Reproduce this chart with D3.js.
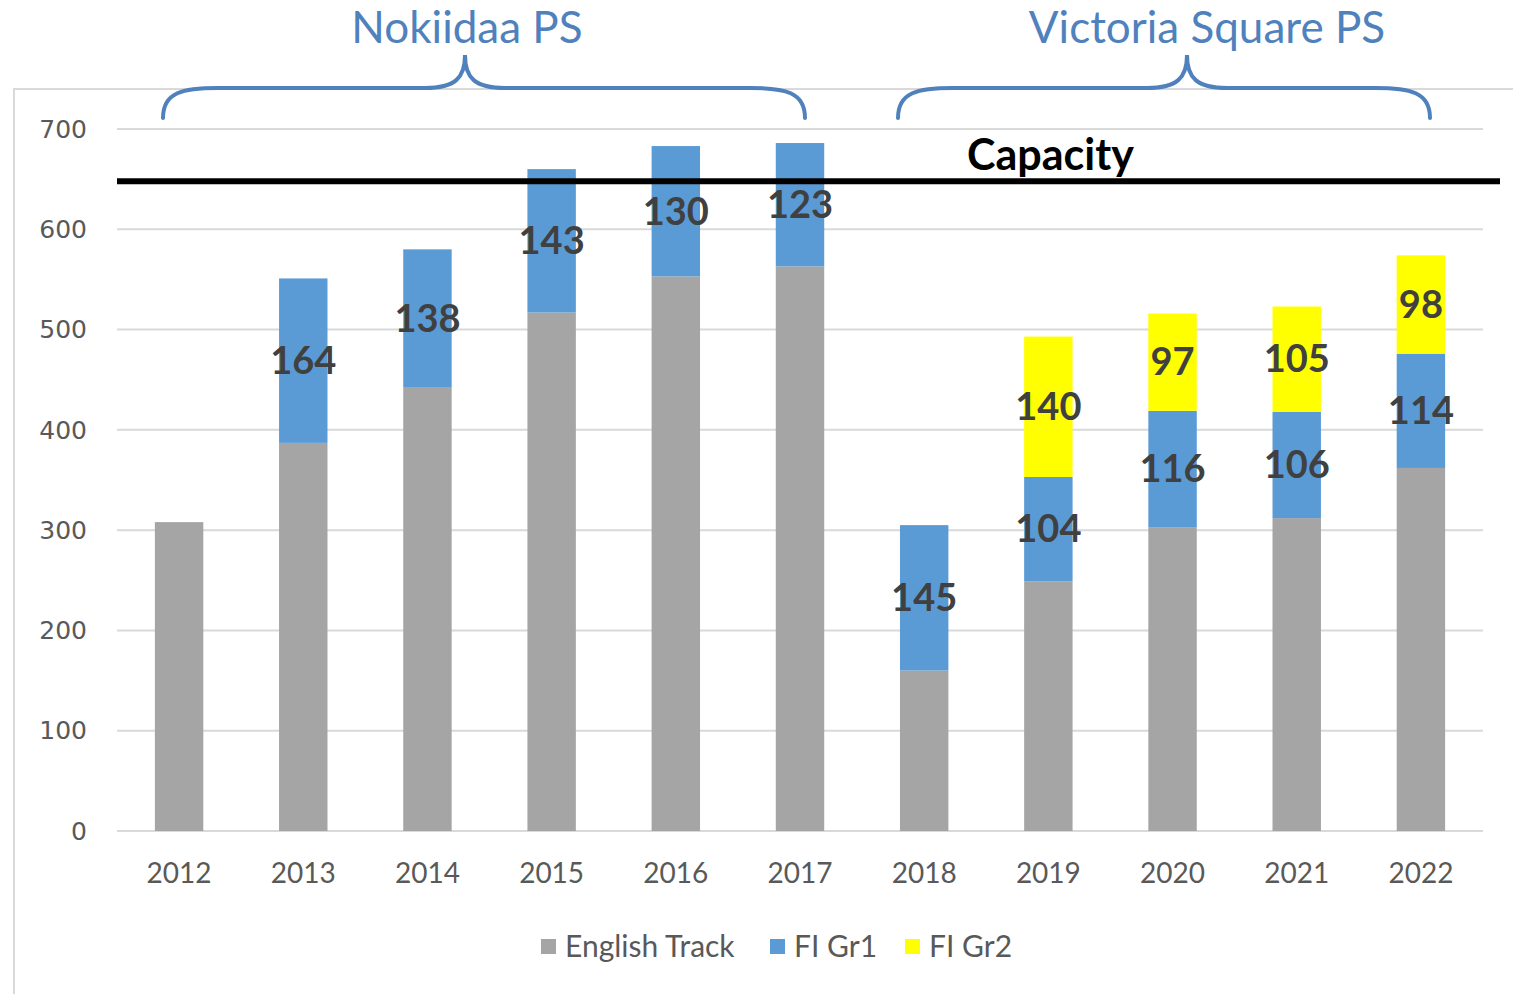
<!DOCTYPE html>
<html>
<head>
<meta charset="utf-8">
<script src="https://cdn.jsdelivr.net/npm/d3@7"></script>
<style>
  body { margin: 0; background: #fff; }
  text { font-family: Lato, "Open Sans", sans-serif; }
</style>
</head>
<body>
<script>
// data
const years = ["2012","2013","2014","2015","2016","2017","2018","2019","2020","2021","2022"];
const englishTrack = [308, 387, 442, 517, 553, 563, 160, 249, 303, 312, 362];
const fiGr1 = [0, 164, 138, 143, 130, 123, 145, 104, 116, 106, 114];
const fiGr2 = [0, 0, 0, 0, 0, 0, 0, 140, 97, 105, 98];
const seriesNames = ["English Track", "FI Gr1", "FI Gr2"];
const seriesColors = ["#a5a5a5", "#5b9bd5", "#ffff00"];
const yTicks = [0, 100, 200, 300, 400, 500, 600, 700];
const capacity = 648;
const schools = [
  { name: "Nokiidaa PS", left: 163, tip: 465, right: 805, titleX: 467 },
  { name: "Victoria Square PS", left: 898, tip: 1187, right: 1430, titleX: 1207 }
];

let svg = d3.select("body").append("svg")
  .attr("width", 1513)
  .attr("height", 994);

// chart frame
svg.append("path")
  .attr("d", "M14,994 V89 H1513")
  .attr("fill", "none")
  .attr("stroke", "#d9d9d9")
  .attr("stroke-width", 2);

let x = d3.scaleBand()
  .domain(years)
  .range([117, 1483])
  .paddingInner(0.61)
  .paddingOuter(0.305);

let y = d3.scaleLinear()
  .domain([0, 700])
  .range([831, 129]);

// gridlines
svg.selectAll()
  .data(yTicks)
  .enter()
    .append("line")
      .attr("x1", 117)
      .attr("x2", 1483)
      .attr("y1", d => y(d))
      .attr("y2", d => y(d))
      .attr("stroke", "#d9d9d9")
      .attr("stroke-width", 2);

svg.selectAll()
  .data(yTicks)
  .enter()
    .append("text")
      .attr("x", 87)
      .attr("y", d => y(d))
      .attr("dy", "0.35em")
      .attr("text-anchor", "end")
      .attr("fill", "#595959")
      .style("font-family", "'DejaVu Sans'")
      .style("font-size", "25px")
      .text(d => d);

svg.selectAll()
  .data(years)
  .enter()
    .append("text")
      .attr("x", d => x(d) + x.bandwidth() / 2)
      .attr("y", 873)
      .attr("dy", "0.35em")
      .attr("text-anchor", "middle")
      .attr("fill", "#595959")
      .style("font-size", "28px")
      .text(d => d);

// stacked bars
let rows = years.map((yr, i) => ({ year: yr, "English Track": englishTrack[i], "FI Gr1": fiGr1[i], "FI Gr2": fiGr2[i] }));
let stack = d3.stack().keys(seriesNames)(rows);

stack.forEach((layer, li) => {
  svg.selectAll()
    .data(layer.filter(d => d[1] > d[0]))
    .enter()
      .append("rect")
        .attr("x", d => x(d.data.year))
        .attr("y", d => y(d[1]))
        .attr("width", x.bandwidth())
        .attr("height", d => y(d[0]) - y(d[1]))
        .attr("fill", seriesColors[li]);
});

// labels on FI segments only
stack.slice(1).forEach(layer => {
  svg.selectAll()
    .data(layer.filter(d => d[1] > d[0]))
    .enter()
      .append("text")
        .attr("x", d => x(d.data.year) + x.bandwidth() / 2)
        .attr("y", d => y((d[0] + d[1]) / 2))
        .attr("dy", "0.35em")
        .attr("text-anchor", "middle")
        .attr("fill", "#404040")
        .style("font-size", "38px")
        .style("font-weight", "bold")
        .text(d => d[1] - d[0]);
});

// capacity line
svg.append("line")
  .attr("x1", 117)
  .attr("x2", 1500)
  .attr("y1", y(capacity))
  .attr("y2", y(capacity))
  .attr("stroke", "#000")
  .attr("stroke-width", 6);

svg.append("text")
  .attr("x", 967)
  .attr("y", 170)
  .attr("fill", "#000")
  .style("font-size", "43px")
  .style("font-weight", "bold")
  .text("Capacity");

// school braces + names
schools.forEach(s => {
  let x0 = s.left, x1 = s.right, xm = s.tip;
  let yb = 118, yh = 88, yt = 55;
  let d = `M${x0},${yb} C${x0},${yh + 4} ${x0 + 20},${yh} ${x0 + 55},${yh} H${xm - 40}`
    + ` C${xm - 10},${yh} ${xm},${yh - 10} ${xm},${yt}`
    + ` C${xm},${yh - 10} ${xm + 10},${yh} ${xm + 40},${yh} H${x1 - 55}`
    + ` C${x1 - 20},${yh} ${x1},${yh + 4} ${x1},${yb}`;
  svg.append("path")
    .attr("d", d)
    .attr("fill", "none")
    .attr("stroke", "#4f81bd")
    .attr("stroke-width", 4)
    .attr("stroke-linecap", "round");
  svg.append("text")
    .attr("x", s.titleX)
    .attr("y", 28)
    .attr("dy", "0.35em")
    .attr("text-anchor", "middle")
    .attr("fill", "#4f81bd")
    .style("font-size", "44px")
    .text(s.name);
});

// legend
let legendX = [541, 770, 905];
seriesNames.forEach((name, i) => {
  svg.append("rect")
    .attr("x", legendX[i])
    .attr("y", 939)
    .attr("width", 15)
    .attr("height", 15)
    .attr("fill", seriesColors[i]);
  svg.append("text")
    .attr("x", legendX[i] + 24)
    .attr("y", 946)
    .attr("dy", "0.35em")
    .attr("fill", "#595959")
    .style("font-size", "30px")
    .text(name);
});
</script>
</body>
</html>
